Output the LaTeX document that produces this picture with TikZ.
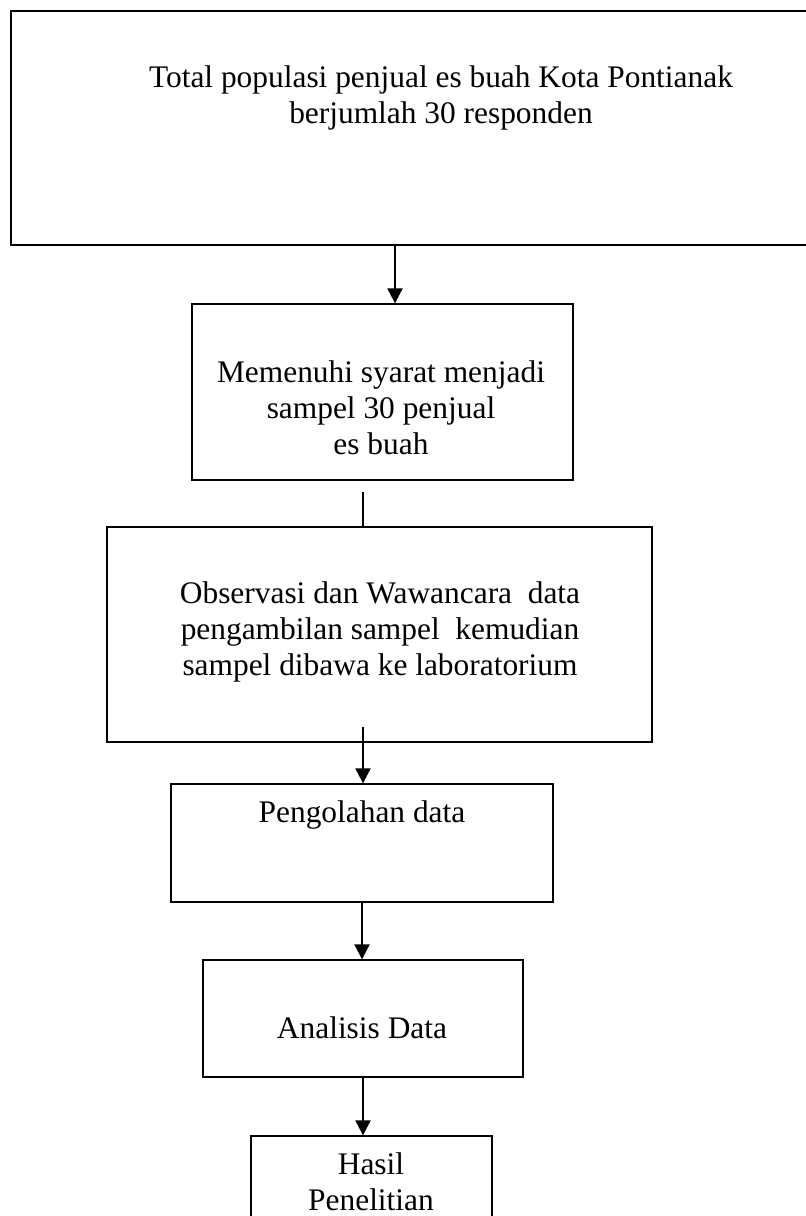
\documentclass[tikz,border=0pt]{standalone}
\usepackage{fontspec}
\setmainfont{Liberation Serif}
\usetikzlibrary{arrows.meta}

\begin{document}
\begin{tikzpicture}[
  x=0.5pt, y=-0.5pt,
  block/.style={rectangle, draw, line width=0.65pt, inner sep=0pt},
  boxtext/.style={align=center, inner sep=0pt, font=\fontsize{15.7}{18}\selectfont},
  flow/.style={-{Triangle[length=7.5pt,width=7.5pt]}, line width=1pt}
]
\useasboundingbox (0,0) rectangle (806,1216);

\node[block, minimum width=434.5pt, minimum height=117pt] (populasi) at (445.5,128) {};
\node[block, minimum width=190.5pt, minimum height=88pt] (sampel) at (382.5,392) {};
\node[block, minimum width=272.5pt, minimum height=107.5pt] (observasi) at (379.5,634.5) {};
\node[block, minimum width=191pt, minimum height=59pt] (olah) at (362,843) {};
\node[block, minimum width=160pt, minimum height=58.5pt] (analisis) at (363,1018.5) {};
\node[block, minimum width=120.5pt, minimum height=52pt] (hasil) at (371.5,1188) {};

\node[boxtext] (populasiText) at (441,97.5) {Total populasi penjual es buah Kota Pontianak\\berjumlah 30 responden};
\node[boxtext] (sampelText) at (381,408) {Memenuhi syarat menjadi\\sampel 30 penjual\\es buah};
\node[boxtext] (observasiText) at (380,632) {Observasi dan Wawancara~~data\\pengambilan sampel~~kemudian\\sampel dibawa ke laboratorium};
\node[boxtext] (olahText) at (362,815) {Pengolahan data};
\node[boxtext] (analisisText) at (362,1028) {Analisis Data};
\node[boxtext] (hasilText) at (371,1182) {Hasil\\Penelitian};

\coordinate (sambung) at (363,492);
\coordinate (turun) at (363,727);

\draw[flow] ([xshift=-25.25pt]populasi.south) -- ([xshift=6.25pt]sampel.north);
\draw[line width=1pt] (sambung) -- (sambung |- observasi.north);
\draw[flow] (turun) -- (turun |- olah.north);
\draw[flow] (olah.south) -- (olah.south |- analisis.north);
\draw[flow] (analisis.south) -- (analisis.south |- hasil.north);
\end{tikzpicture}
\end{document}
